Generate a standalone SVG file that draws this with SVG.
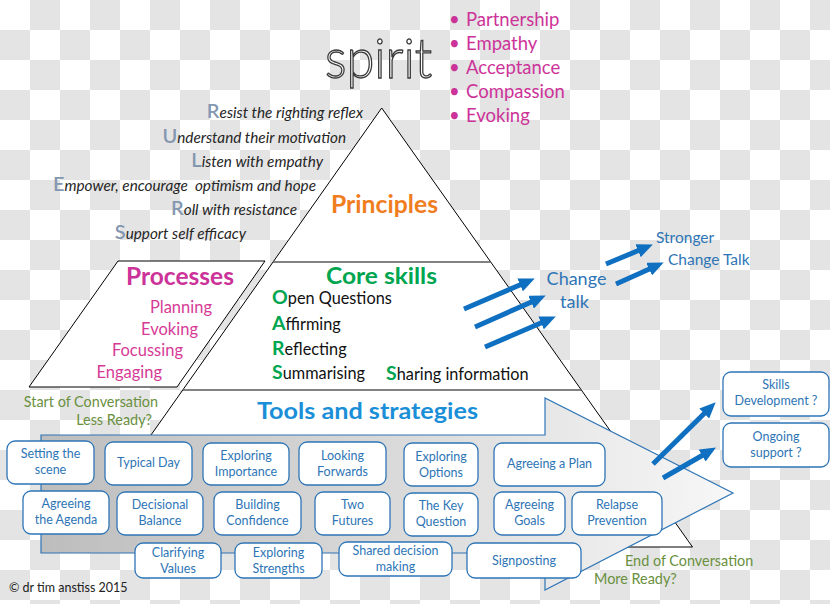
<svg xmlns="http://www.w3.org/2000/svg" width="830" height="604" viewBox="0 0 830 604">
<defs>
<pattern id="chk" width="60" height="60" patternUnits="userSpaceOnUse">
<rect width="60" height="60" fill="#ffffff"/>
<rect x="30" y="0" width="30" height="30" fill="#e4e4e4"/>
<rect x="0" y="30" width="30" height="30" fill="#e4e4e4"/>
</pattern>
<linearGradient id="arrowGrad" gradientUnits="userSpaceOnUse" x1="41" y1="0" x2="733" y2="0">
<stop offset="0" stop-color="#bdbdbd"/>
<stop offset="0.5" stop-color="#d9d9d9"/>
<stop offset="1" stop-color="#f7f7f7"/>
</linearGradient>
<marker id="ah" markerUnits="userSpaceOnUse" viewBox="0 0 16 14" refX="1" refY="7" markerWidth="16" markerHeight="14" orient="auto">
<path d="M0,0 L16,7 L0,14 z" fill="#0f6fc0"/>
</marker>
<style>
.f{font-family:Lato,"Noto Sans","Liberation Sans",sans-serif}
.box rect{fill:#fff;stroke:#2e75b6;stroke-width:1.3}
.box text{font-family:Lato,"Noto Sans","Liberation Sans",sans-serif;font-size:12.5px;fill:#2e75b6;text-anchor:middle}
.rule{font-family:Lato,"Noto Sans","Liberation Sans",sans-serif;font-style:italic;font-size:15.3px;fill:#262626;text-anchor:end}
.rule tspan.L{font-style:normal;font-size:20px;font-weight:600;fill:#8497b0}
.spirit{font-family:Lato,"Noto Sans","Liberation Sans",sans-serif;font-size:18.5px;fill:#cc3399}
.proc{font-family:Lato,"Noto Sans","Liberation Sans",sans-serif;font-size:16.5px;fill:#d63a96}
.oars{font-family:Lato,"Noto Sans","Liberation Sans",sans-serif;font-size:16.3px;fill:#111}
.oars tspan.L{font-size:19.5px;font-weight:700;fill:#00a550}
.conv{font-family:Lato,"Noto Sans","Liberation Sans",sans-serif;font-size:14.4px;fill:#6a9040}
.ct{font-family:Lato,"Noto Sans","Liberation Sans",sans-serif;fill:#2e75b6}
.arr{stroke:#0f6fc0;stroke-width:5;fill:none;marker-end:url(#ah)}
</style>
</defs>

<rect width="830" height="604" fill="url(#chk)"/>

<g id="pyramid">
<polygon points="381.7,108 692.5,547 72,547" fill="#fff" stroke="#000" stroke-width="1"/>
<line x1="273" y1="262" x2="490.5" y2="262" stroke="#595959" stroke-width="1.5"/>
<line x1="183" y1="390" x2="581" y2="390" stroke="#595959" stroke-width="1.5"/>
<text class="f" x="384.5" y="213" text-anchor="middle" font-size="24" font-weight="700" fill="#f07d1e" textLength="107" lengthAdjust="spacingAndGlyphs">Principles</text>
</g>

<g id="spirit">
<text class="f" x="378.5" y="78" text-anchor="middle" font-size="56" font-weight="300" fill="#fff" stroke="#3a3a3a" stroke-width="1.4" textLength="107" lengthAdjust="spacingAndGlyphs">spirit</text>
<text class="spirit" x="449" y="26">•</text><text class="spirit" x="466" y="26">Partnership</text>
<text class="spirit" x="449" y="50">•</text><text class="spirit" x="466" y="50">Empathy</text>
<text class="spirit" x="449" y="74">•</text><text class="spirit" x="466" y="74">Acceptance</text>
<text class="spirit" x="449" y="98">•</text><text class="spirit" x="466" y="98">Compassion</text>
<text class="spirit" x="449" y="122">•</text><text class="spirit" x="466" y="122">Evoking</text>
</g>

<g id="rules">
<text class="rule" x="363" y="118"><tspan class="L">R</tspan>esist the righting reflex</text>
<text class="rule" x="346" y="143"><tspan class="L">U</tspan>nderstand their motivation</text>
<text class="rule" x="323" y="167"><tspan class="L">L</tspan>isten with empathy</text>
<text class="rule" x="316" y="191" xml:space="preserve"><tspan class="L">E</tspan>mpower, encourage  optimism and hope</text>
<text class="rule" x="297" y="215"><tspan class="L">R</tspan>oll with resistance</text>
<text class="rule" x="246" y="239"><tspan class="L">S</tspan>upport self efficacy</text>
</g>

<g id="processes">
<polygon points="118,261 265,261 177,387 29,387" fill="#fff" stroke="#000" stroke-width="1"/>
<text class="f" x="180" y="285" text-anchor="middle" font-size="24" font-weight="700" fill="#cc3399" textLength="108" lengthAdjust="spacingAndGlyphs">Processes</text>
<text class="proc" x="212" y="313" text-anchor="end">Planning</text>
<text class="proc" x="198" y="335" text-anchor="end">Evoking</text>
<text class="proc" x="183" y="356" text-anchor="end">Focussing</text>
<text class="proc" x="162" y="378" text-anchor="end">Engaging</text>
</g>

<g id="coreskills">
<text class="f" x="381.5" y="283.5" text-anchor="middle" font-size="23.5" font-weight="700" fill="#00a550" textLength="111" lengthAdjust="spacingAndGlyphs">Core skills</text>
<text class="oars" x="272" y="304"><tspan class="L">O</tspan>pen Questions</text>
<text class="oars" x="272" y="330"><tspan class="L">A</tspan>ffirming</text>
<text class="oars" x="272" y="355"><tspan class="L">R</tspan>eflecting</text>
<text class="oars" x="272" y="379"><tspan class="L">S</tspan>ummarising</text>
<text class="oars" x="386" y="380"><tspan class="L">S</tspan>haring information</text>
</g>

<g id="tools">
<text class="f" x="367.5" y="419" text-anchor="middle" font-size="23" font-weight="700" fill="#1a8fd8" textLength="221" lengthAdjust="spacingAndGlyphs">Tools and strategies</text>
<path d="M41,435 L545,435 L545,398 L733,493 L545,590 L545,553 L41,553 Z" fill="url(#arrowGrad)" stroke="#2e75b6" stroke-width="1.2"/>
</g>

<g id="conversation">
<text class="conv" x="158" y="407" text-anchor="end">Start of Conversation</text>
<text class="conv" x="152" y="425" text-anchor="end">Less Ready?</text>
<text class="conv" x="625" y="566">End of Conversation</text>
<text class="conv" x="594" y="584">More Ready?</text>
</g>

<g id="box-setting" class="box"><rect x="7" y="441" width="87" height="43" rx="8"/><text x="50.5" y="458">Setting the</text><text x="50.5" y="474">scene</text></g>
<g id="box-typical" class="box"><rect x="105" y="442" width="87" height="43" rx="8"/><text x="148.5" y="467">Typical Day</text></g>
<g id="box-importance" class="box"><rect x="203" y="443" width="86" height="42" rx="8"/><text x="246" y="460">Exploring</text><text x="246" y="476">Importance</text></g>
<g id="box-looking" class="box"><rect x="299" y="442" width="87" height="43" rx="8"/><text x="342.5" y="460">Looking</text><text x="342.5" y="476">Forwards</text></g>
<g id="box-options" class="box"><rect x="404" y="443" width="74" height="43" rx="8"/><text x="441" y="461">Exploring</text><text x="441" y="477">Options</text></g>
<g id="box-plan" class="box"><rect x="494" y="443" width="111" height="43" rx="8"/><text x="549.5" y="468">Agreeing a Plan</text></g>

<g id="box-agenda" class="box"><rect x="23" y="491" width="86" height="43" rx="8"/><text x="66" y="508">Agreeing</text><text x="66" y="524">the Agenda</text></g>
<g id="box-decisional" class="box"><rect x="117" y="492" width="86" height="43" rx="8"/><text x="160" y="509">Decisional</text><text x="160" y="525">Balance</text></g>
<g id="box-confidence" class="box"><rect x="214" y="492" width="87" height="43" rx="8"/><text x="257.5" y="509">Building</text><text x="257.5" y="525">Confidence</text></g>
<g id="box-futures" class="box"><rect x="315" y="492" width="75" height="43" rx="8"/><text x="352.5" y="509">Two</text><text x="352.5" y="525">Futures</text></g>
<g id="box-key" class="box"><rect x="404" y="493" width="74" height="43" rx="8"/><text x="441" y="510">The Key</text><text x="441" y="526">Question</text></g>
<g id="box-goals" class="box"><rect x="494" y="492" width="71" height="43" rx="8"/><text x="529.5" y="509">Agreeing</text><text x="529.5" y="525">Goals</text></g>
<g id="box-relapse" class="box"><rect x="572" y="492" width="90" height="43" rx="8"/><text x="617" y="509">Relapse</text><text x="617" y="525">Prevention</text></g>

<g id="box-values" class="box"><rect x="135" y="543" width="86" height="35" rx="8"/><text x="178" y="557">Clarifying</text><text x="178" y="573">Values</text></g>
<g id="box-strengths" class="box"><rect x="235" y="543" width="87" height="35" rx="8"/><text x="278.5" y="557">Exploring</text><text x="278.5" y="573">Strengths</text></g>
<g id="box-shared" class="box"><rect x="339" y="542" width="113" height="34" rx="8"/><text x="395.5" y="555">Shared decision</text><text x="395.5" y="571">making</text></g>
<g id="box-signposting" class="box"><rect x="467" y="543" width="114" height="35" rx="8"/><text x="524" y="565">Signposting</text></g>

<g id="box-skills" class="box"><rect x="723" y="372" width="106" height="44" rx="8"/><text x="776" y="389">Skills</text><text x="776" y="405">Development ?</text></g>
<g id="box-ongoing" class="box"><rect x="723" y="423" width="106" height="44" rx="8"/><text x="776" y="441">Ongoing</text><text x="776" y="457">support ?</text></g>

<g id="change-talk">
<text class="ct" x="576.5" y="285" text-anchor="middle" font-size="18">Change</text>
<text class="ct" x="574.5" y="308" text-anchor="middle" font-size="18">talk</text>
<text class="ct" x="656" y="243" font-size="15.5">Stronger</text>
<text class="ct" x="668" y="265" font-size="15.5">Change Talk</text>
</g>

<g id="connectors">
<line class="arr" x1="464" y1="309" x2="521" y2="284.5"/>
<line class="arr" x1="475" y1="327" x2="532" y2="301.7"/>
<line class="arr" x1="485" y1="347" x2="542" y2="322.5"/>
<line class="arr" x1="606" y1="264" x2="639" y2="250.3"/>
<line class="arr" x1="616" y1="284" x2="650" y2="268.7"/>
<line class="arr" x1="653" y1="464" x2="705" y2="412.8"/>
<line class="arr" x1="663" y1="478" x2="703" y2="455"/>
</g>

<text class="f" x="9" y="592" font-size="12.5" fill="#222">© dr tim anstiss 2015</text>
</svg>
